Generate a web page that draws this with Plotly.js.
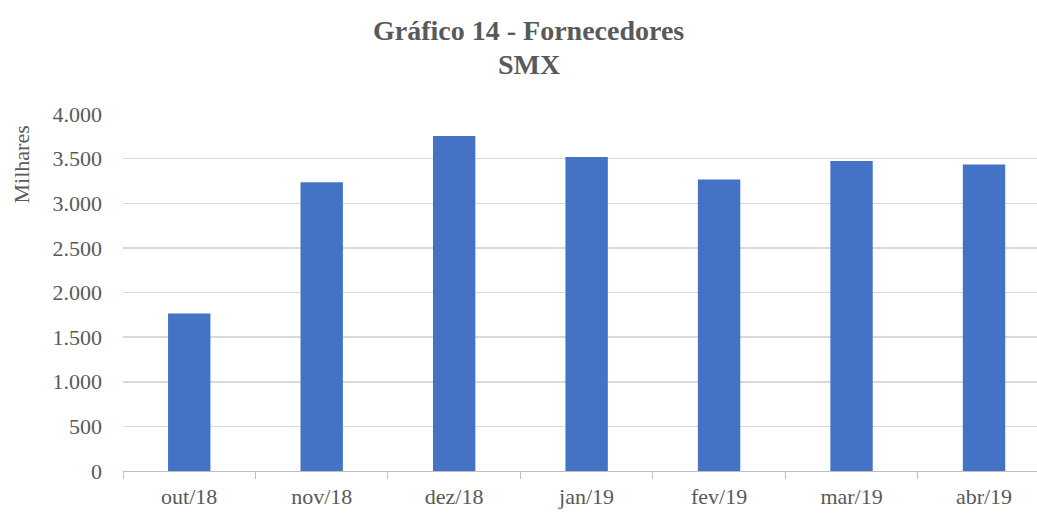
<!DOCTYPE html>
<html><head><meta charset="utf-8">
<script src="https://cdn.plot.ly/plotly-3.0.1.min.js"></script>
<style>html,body{margin:0;padding:0;background:#fff}#chart{width:1037px;height:513px}</style>
</head><body><div id="chart"></div>
<script>
const categories = ["out/18","nov/18","dez/18","jan/19","fev/19","mar/19","abr/19"];
const values = [1765, 3235, 3754, 3519, 3265, 3474, 3433];
const yTickVals = [0,500,1000,1500,2000,2500,3000,3500,4000];
const yTickText = ["0","500","1.000","1.500","2.000","2.500","3.000","3.500","4.000"];
const titleLines = ["Gráfico 14 - Fornecedores", "SMX"];

const font = "Liberation Serif, Times New Roman, serif";
const gray = "#595959";

Plotly.newPlot("chart", [{
  type: "bar",
  x: categories,
  y: values,
  width: 0.32,
  marker: {color: "#4472C4"},
  hoverinfo: "x+y"
}], {
  width: 1037, height: 513,
  margin: {l: 123, r: 0, t: 114, b: 42},
  paper_bgcolor: "#fff", plot_bgcolor: "#fff",
  showlegend: false,
  xaxis: {
    type: "category",
    range: [-0.5, 6.4],
    showline: true, linecolor: "#bfbfbf", linewidth: 1,
    ticks: "outside", tickson: "boundaries", ticklen: 7, tickcolor: "#bfbfbf",
    ticklabelstandoff: 6,
    tickfont: {family: font, size: 22, color: gray},
    showgrid: false, zeroline: false
  },
  yaxis: {
    range: [0, 4000],
    tickvals: yTickVals, ticktext: yTickText,
    tickfont: {family: font, size: 22, color: gray},
    showgrid: true, gridcolor: "#d9d9d9", gridwidth: 1.5,
    zeroline: false, showline: false,
    ticks: "", ticklabelstandoff: 20
  },
  annotations: [{
    text: "<b>" + titleLines[0] + "</b>", xref: "paper", yref: "paper",
    x: 0.444, y: 1.235, xanchor: "center", yanchor: "middle", showarrow: false,
    font: {family: font, size: 28, color: gray}
  }, {
    text: "<b>" + titleLines[1] + "</b>", xref: "paper", yref: "paper",
    x: 0.444, y: 1.14, xanchor: "center", yanchor: "middle", showarrow: false,
    font: {family: font, size: 28, color: gray}
  }, {
    text: "Milhares", xref: "paper", yref: "paper",
    x: -0.11, y: 0.86, xanchor: "center", yanchor: "middle",
    textangle: -90, showarrow: false,
    font: {family: font, size: 22, color: gray}
  }]
}, {displayModeBar: false, staticPlot: true});
</script></body></html>
